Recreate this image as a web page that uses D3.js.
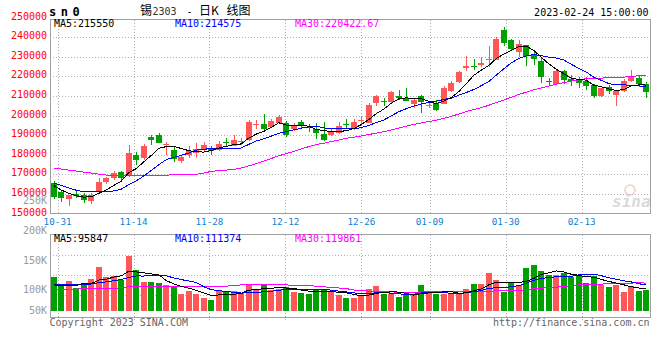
<!DOCTYPE html>
<html><head><meta charset="utf-8">
<script src="https://cdn.jsdelivr.net/npm/d3@7"></script>
<style>
body{margin:0;background:#fff}
svg{display:block}
text{font-family:"DejaVu Sans Mono",monospace}
</style>
</head><body>
<svg id="c" width="660" height="360"></svg>
<script>
const dates = ["10-28","10-31","11-01","11-02","11-03","11-04","11-07","11-08","11-09","11-10","11-11",
"11-14","11-15","11-16","11-17","11-18","11-21","11-22","11-23","11-24","11-25",
"11-28","11-29","11-30","12-01","12-02","12-05","12-06","12-07","12-08","12-09",
"12-12","12-13","12-14","12-15","12-16","12-19","12-20","12-21","12-22","12-23",
"12-26","12-27","12-28","12-29","12-30","01-03","01-04","01-05","01-06",
"01-09","01-10","01-11","01-12","01-13","01-16","01-17","01-18","01-19","01-20",
"01-30","01-31","02-01","02-02","02-03","02-06","02-07","02-08","02-09","02-10",
"02-13","02-14","02-15","02-16","02-17","02-20","02-21","02-22","02-23","02-24"];

const open = [165640,160850,157380,160030,159420,156470,161360,165940,168180,171030,
169000,180050,178160,189060,190200,185140,182600,176990,179690,180920,
182600,183100,182600,186670,184630,186310,187330,195330,195680,193950,
196190,196190,193140,196500,194310,193290,190740,190230,191100,195840,
193290,197010,196190,206380,207400,206690,210100,208930,206020,210100,
205000,206380,206020,212290,217080,224210,225380,225530,228180,228430,
243710,238620,232510,236070,230980,227920,217740,215850,222680,218760,
218600,217580,215550,209740,214680,210610,212290,217480,219110,216060];

const close = [158510,157790,159270,159010,157130,159680,166300,167930,170730,167930,
181070,177100,184630,187330,186010,185650,178010,178670,182090,183100,
184790,181730,185500,186160,187280,186820,196500,195680,193290,197010,
199050,190230,194820,194460,193950,191100,187330,192270,194820,195480,
196700,197520,205160,209740,207040,211780,208930,207550,207700,206690,
205260,202970,214020,216570,221960,225390,224510,227010,228790,239280,
236940,233930,236480,230110,228790,219420,216970,222830,218250,217480,
216570,215190,210100,213820,212290,212290,217740,219670,216110,211940];

const high = [166450,161360,159680,161360,160440,160540,168080,168840,171900,171750,
184990,181320,185650,190230,191100,186520,184280,179690,184480,185800,
186520,184280,187180,188550,189880,188550,197520,197520,200930,198230,
200060,197010,196190,197520,195680,196190,196500,193140,196500,198230,
198230,199910,206380,210610,208930,212290,213150,214170,208930,210610,
206690,208060,214830,217380,222470,230470,228940,229600,235560,240150,
244980,239130,238470,236070,232510,229300,219110,223340,223340,220790,
219770,219420,216210,214170,215700,212900,218600,222980,220790,217080];

const low = [157490,155760,153820,157890,155450,154840,160540,165180,167320,166810,
168700,174960,177500,185140,185900,180050,176330,175820,178370,178370,
182090,179690,182090,183970,184380,184890,187180,193140,192780,193800,
195680,188860,191920,193650,191610,188050,187180,189370,190740,193650,
192420,194820,196090,204650,205000,206380,208060,207190,203830,201290,
203830,202100,205870,212130,216570,222470,222980,224510,224610,228180,
235210,233530,229710,225380,225890,216570,214830,215700,216210,214830,
213820,212800,208720,209590,211120,205000,211880,217080,214430,209080];

const volume = [145900,110300,128700,100400,110300,136000,188800,144600,148900,134700,
236000,174600,124400,124400,120100,110300,103000,71600,85800,71600,
55800,45900,85800,85800,85800,77200,114500,88800,114500,91800,
94400,103000,81500,77200,71600,88800,94400,81500,67400,55800,
55800,67400,93100,106000,74600,71600,60100,67400,67400,110300,
81500,74600,74600,74600,74600,93100,114500,114500,162000,131700,
83200,122300,113300,183500,196300,170400,155300,153200,163000,145900,
148200,121800,148200,113300,103000,113300,83500,106000,87600,88800];

// moving-average values before enough history exists
const ma5Head = [164260,162000,160300,159000];
const ma10Head = [165640,164260,163090,161870,161050,161100,161100,161200,161500];
const ma30Head = [173170,172660,172150,171650,171140,170630,170120,169610,169610,169610,
169610,169610,169610,169610,169350,169610,169710,169860,169860,169960,
170630,171490,171900,172150,172410,173270,174290,175470,176740];
const volMa5Head = [112000,108000,108000,109000];
const volMa10Head = [113000,112000,112000,112000,112000,116000,121000,125000,130000];
const volMa30Head = [93000,93000,93000,94000,96000,96000,96000,97000,97000,100000,
104000,105000,105000,106000,106000,106000,106000,106000,106000,106000,
106000,106000,106000,107000,108000,112000,114000,114000,114000];

const xTickLabels = ["10-31","11-14","11-28","12-12","12-26","01-09","01-30","02-13"];
const priceTickValues = [150000,160000,170000,180000,190000,200000,210000,220000,230000,240000,250000];
const volTickLabels = ["250K","200K","150K","100K","50K"];
const volTickValues = [250000,200000,150000,100000,50000];
const priceHeader = ["MA5:215550","MA10:214575","MA30:220422.67"];
const volHeader = ["MA5:95847","MA10:111374","MA30:119861"];

const RED = "#ff5656", GREEN = "#00a000";
const svg = d3.select("#c");

const xBand = d3.scaleBand().domain(dates).range([50,650]).paddingInner(0.2).paddingOuter(0.1);
const xGrid = d3.scalePoint().domain(dates).range([50,650]);
const yP = d3.scaleLinear().domain([150000,250000]).range([213.5,17.5]);
const yV = d3.scaleLinear().domain([0,250000]).range([311,252.7]);
const yVLabel = d3.scaleLinear().domain([100000,250000]).range([293.3,204]);

const bw = Math.round(xBand.bandwidth());
const bx = d => Math.round(xBand(d));
const cx = d => xBand(d) + xBand.bandwidth()/2;

function movingAvg(vals, n, head){
  return vals.map((v,i)=> i < head.length ? head[i] : d3.mean(vals.slice(i-n+1, i+1)));
}

const gridC = "#b0b0b0", frameC = "#a0a0a0";
const g = svg.append("g");

g.selectAll(".hg").data(priceTickValues.slice(1,-1)).join("line")
  .attr("x1",50).attr("x2",650)
  .attr("y1",d=>Math.round(yP(d))+0.5).attr("y2",d=>Math.round(yP(d))+0.5)
  .attr("stroke",gridC).attr("stroke-dasharray","1,2").attr("shape-rendering","crispEdges");
g.selectAll(".vg").data([255.5,275.5,295.5]).join("line")
  .attr("x1",50).attr("x2",650).attr("y1",d=>d).attr("y2",d=>d)
  .attr("stroke",gridC).attr("stroke-dasharray","1,2").attr("shape-rendering","crispEdges");
xTickLabels.forEach(t=>{
  const x = Math.round(xGrid(t))+0.5;
  g.append("line").attr("x1",x).attr("x2",x).attr("y1",20).attr("y2",213)
    .attr("stroke",gridC).attr("stroke-dasharray","1,2").attr("shape-rendering","crispEdges");
  g.append("line").attr("x1",x).attr("x2",x).attr("y1",235).attr("y2",320)
    .attr("stroke",gridC).attr("stroke-dasharray","1,2").attr("shape-rendering","crispEdges");
});

g.append("rect").attr("x",50.5).attr("y",19.5).attr("width",600).attr("height",194)
  .attr("fill","none").attr("stroke",frameC).attr("shape-rendering","crispEdges");
g.append("rect").attr("x",50.5).attr("y",234.5).attr("width",600).attr("height",83)
  .attr("fill","none").attr("stroke",frameC).attr("shape-rendering","crispEdges");

const wm = svg.append("g").attr("opacity",0.55);
wm.append("circle").attr("cx",630).attr("cy",190).attr("r",5).attr("fill","none").attr("stroke","#f3a0a0").attr("stroke-width",1.5);
wm.append("text").attr("x",612).attr("y",207).attr("font-size",16).attr("font-weight","bold")
  .attr("font-style","italic").attr("font-family","DejaVu Sans, sans-serif").attr("fill","#bdbdbd").text("sina");

const idx = d3.range(dates.length);
const cg = svg.append("g").attr("shape-rendering","crispEdges");
idx.forEach(i=>{
  const d = dates[i];
  const up = close[i] >= open[i];
  const col = up ? RED : GREEN;
  const x = bx(d);
  const yh = Math.round(yP(high[i])), yl = Math.round(yP(low[i]));
  cg.append("rect").attr("x",x+3).attr("y",yh).attr("width",1).attr("height",Math.max(1,yl-yh)).attr("fill",col);
  const yt = Math.round(yP(Math.max(open[i],close[i]))), yb = Math.round(yP(Math.min(open[i],close[i])));
  cg.append("rect").attr("x",x).attr("y",yt).attr("width",bw).attr("height",Math.max(1,yb-yt)).attr("fill",col);
  const vy = Math.round(yV(volume[i]));
  cg.append("rect").attr("x",x).attr("y",vy).attr("width",bw).attr("height",311-vy).attr("fill",col);
});

function drawLine(vals, yScale, color){
  const line = d3.line().x((v,i)=>cx(dates[i])).y(v=>yScale(v));
  svg.append("path").attr("d",line(vals)).attr("fill","none").attr("stroke",color)
    .attr("stroke-width",1).attr("shape-rendering","crispEdges");
}
drawLine(movingAvg(close,30,ma30Head), yP, "#ff00ff");
drawLine(movingAvg(close,10,ma10Head), yP, "#0000ff");
drawLine(movingAvg(close,5,ma5Head), yP, "#000000");
drawLine(movingAvg(volume,30,volMa30Head), yV, "#ff00ff");
drawLine(movingAvg(volume,10,volMa10Head), yV, "#0000ff");
drawLine(movingAvg(volume,5,volMa5Head), yV, "#000000");

const T = svg.append("g").attr("font-size",10);
T.selectAll(".yl").data(priceTickValues).join("text")
  .attr("x",47).attr("y",d=>yP(d)+2).attr("text-anchor","end").attr("fill","#f00").text(d=>d);
T.selectAll(".xl").data(xTickLabels).join("text")
  .attr("x",d=>xGrid(d)).attr("y",225).attr("text-anchor","middle").attr("fill","#0f7fd0")
  .attr("font-size",9.3).text(d=>d);
T.selectAll(".vl").data(volTickValues).join("text")
  .attr("x",47).attr("y",(d)=>Math.min(yVLabel(d),314)).attr("text-anchor","end").attr("fill","#999")
  .text((d,i)=>volTickLabels[i]);

const hx = [54,175,295], hc = ["#000","#00f","#f0f"];
priceHeader.forEach((s,i)=>T.append("text").attr("x",hx[i]).attr("y",27.3).attr("fill",hc[i]).text(s));
volHeader.forEach((s,i)=>T.append("text").attr("x",hx[i]).attr("y",241.7).attr("fill",hc[i]).text(s));

svg.append("text").attr("x",49).attr("y",15.7).attr("font-size",12).attr("font-weight","bold")
  .attr("letter-spacing","4.5px").attr("fill","#000").text("sn0");
const title = svg.append("text").attr("y",15.4).attr("fill","#000");
title.append("tspan").attr("x",140).attr("font-family","Noto Sans CJK SC").attr("font-size",12).text("锡");
title.append("tspan").attr("x",152.5).attr("font-size",10).attr("fill","#333").text("2303");
title.append("tspan").attr("x",186.5).attr("font-size",10).text("-");
title.append("tspan").attr("x",199).attr("font-family","Noto Sans CJK SC").attr("font-size",12).text("日K");
title.append("tspan").attr("x",226.5).attr("font-family","Noto Sans CJK SC").attr("font-size",12).text("线图");

svg.append("text").attr("x",648.5).attr("y",15.7).attr("font-size",10).attr("text-anchor","end")
  .attr("fill","#000").text("2023-02-24 15:00:00");
svg.append("text").attr("x",49.5).attr("y",326).attr("font-size",10).attr("fill","#666").text("Copyright 2023 SINA.COM");
svg.append("text").attr("x",649.5).attr("y",326).attr("font-size",10).attr("text-anchor","end")
  .attr("fill","#666").text("http://finance.sina.com.cn");
</script>
</body></html>
